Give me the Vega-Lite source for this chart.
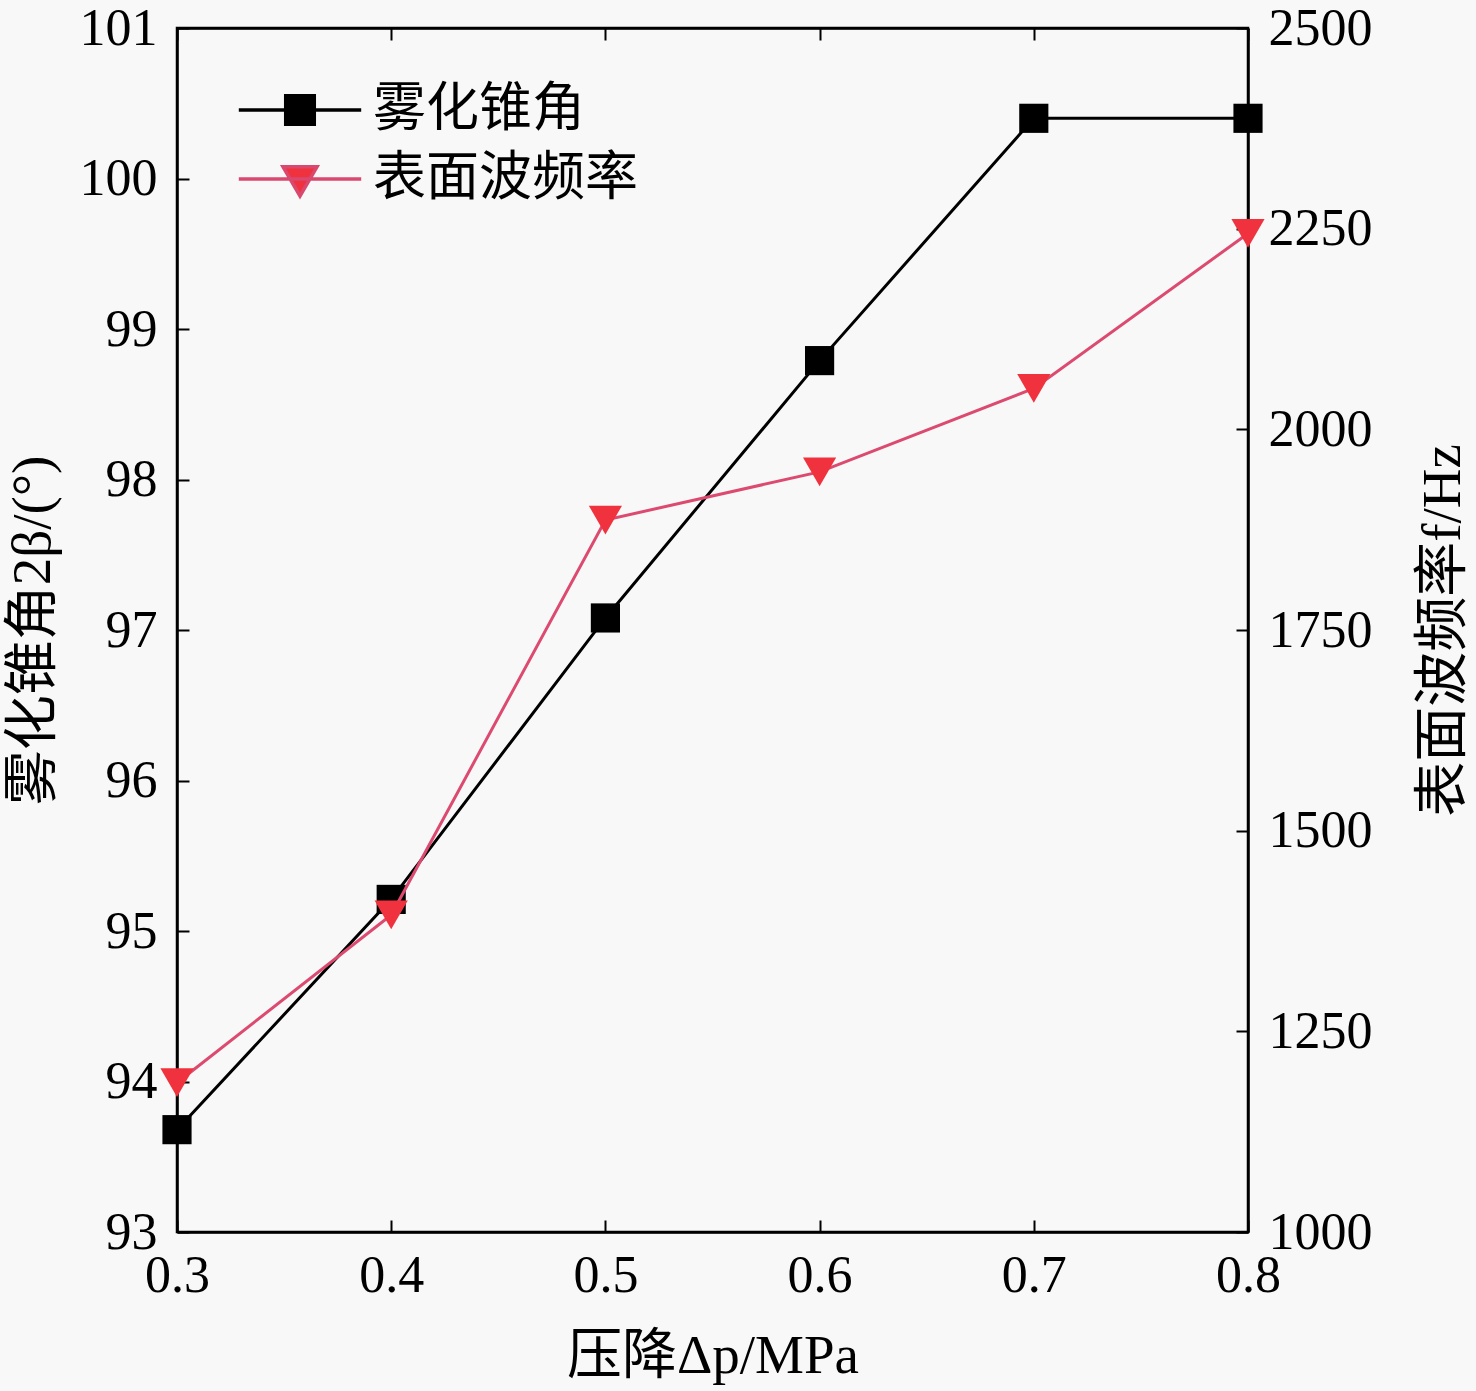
{
  "$schema": "https://vega.github.io/schema/vega-lite/v6.json",
  "width": 1071,
  "height": 1204,
  "autosize": {"type": "none"},
  "padding": {"left": 177, "top": 28, "right": 228, "bottom": 159},
  "background": "#f8f8f8",
  "config": {
    "view": {"stroke": "black", "strokeWidth": 2.5},
    "font": "Liberation Serif",
    "axis": {
      "domainColor": "black", "domainWidth": 2.5,
      "tickColor": "black", "tickWidth": 2, "tickSize": -12,
      "labelFont": "Liberation Serif", "labelFontSize": 52, "labelColor": "black",
      "titleFont": "Liberation Serif, Noto Sans CJK SC", "titleFontSize": 55, "titleFontWeight": "normal", "titleColor": "black",
      "grid": false
    }
  },
  "data": {"values": [
    {"p": 0.3, "series": "雾化锥角", "v": 93.68},
    {"p": 0.4, "series": "雾化锥角", "v": 95.21},
    {"p": 0.5, "series": "雾化锥角", "v": 97.08},
    {"p": 0.6, "series": "雾化锥角", "v": 98.79},
    {"p": 0.7, "series": "雾化锥角", "v": 100.4},
    {"p": 0.8, "series": "雾化锥角", "v": 100.4},
    {"p": 0.3, "series": "表面波频率", "v": 1186},
    {"p": 0.4, "series": "表面波频率", "v": 1395},
    {"p": 0.5, "series": "表面波频率", "v": 1887},
    {"p": 0.6, "series": "表面波频率", "v": 1947},
    {"p": 0.7, "series": "表面波频率", "v": 2051},
    {"p": 0.8, "series": "表面波频率", "v": 2244}
  ]},
  "encoding": {
    "x": {"field": "p", "type": "quantitative", "scale": {"domain": [0.3, 0.8], "nice": false, "zero": false}}
  },
  "layer": [
    {
      "transform": [{"filter": "datum.series === '雾化锥角'"}],
      "encoding": {
        "x": {"field": "p", "type": "quantitative",
          "axis": {"title": "压降Δp/MPa", "values": [0.3, 0.4, 0.5, 0.6, 0.7, 0.8], "format": ".1f", "labelPadding": 30, "titlePadding": 28, "labelFlush": false}},
        "y": {"field": "v", "type": "quantitative",
          "scale": {"domain": [93, 101], "nice": false, "zero": false},
          "axis": {"title": "雾化锥角2β/(°)", "values": [93, 94, 95, 96, 97, 98, 99, 100, 101], "labelPadding": 32, "titlePadding": 18, "labelFlush": false}}
      },
      "layer": [
        {"mark": {"type": "point", "filled": true, "size": 1, "strokeWidth": 3, "opacity": 1},
         "encoding": {
           "color": {"field": "series", "type": "nominal",
             "scale": {"domain": ["雾化锥角", "表面波频率"], "range": ["black", "#f0323e"]},
             "legend": {
               "title": null, "orient": "none", "legendX": 87, "legendY": 46,
               "labelFont": "Noto Sans CJK SC", "labelFontSize": 53, "labelColor": "black", "labelLimit": 0,
               "symbolSize": 4624, "rowPadding": 6, "labelOffset": 37, "symbolStrokeWidth": 3.5, "symbolOpacity": 1,
               "encode": {"symbols": {"update": {"strokeWidth": {"value": 3.5}, "opacity": {"value": 1}}}}
             }},
           "shape": {"field": "series", "type": "nominal",
             "scale": {"domain": ["雾化锥角", "表面波频率"], "range": ["M-1.8,0H1.8M-0.42,-0.42H0.42V0.42H-0.42Z", "M-1.8,0H1.8M-0.5,-0.36H0.5L0,0.5Z"]}},
           "stroke": {"field": "series", "type": "nominal",
             "scale": {"domain": ["雾化锥角", "表面波频率"], "range": ["black", "#d9486e"]}}
         }},
        {"mark": {"type": "line", "color": "black", "strokeWidth": 3}},
        {"mark": {"type": "point", "shape": "square", "filled": true, "size": 850, "color": "black", "opacity": 1}}
      ]
    },
    {
      "transform": [{"filter": "datum.series === '表面波频率'"}],
      "encoding": {
        "x": {"field": "p", "type": "quantitative",
          "axis": {"orient": "top", "labels": false, "title": null, "values": [0.3, 0.4, 0.5, 0.6, 0.7, 0.8]}},
        "y": {"field": "v", "type": "quantitative",
          "scale": {"domain": [1000, 2500], "nice": false, "zero": false},
          "axis": {"orient": "right", "title": "表面波频率f/Hz", "titleAngle": 270, "titleBaseline": "top", "format": "d", "values": [1000, 1250, 1500, 1750, 2000, 2250, 2500], "labelPadding": 32, "titlePadding": 44, "labelFlush": false}}
      },
      "layer": [
        {"mark": {"type": "line", "color": "#dc4a70", "strokeWidth": 3}},
        {"mark": {"type": "point", "shape": "triangle-down", "filled": true, "size": 1100, "color": "#f0323e", "opacity": 1}}
      ]
    }
  ],
  "resolve": {"scale": {"y": "independent"}, "axis": {"x": "independent", "y": "independent"}}
}
